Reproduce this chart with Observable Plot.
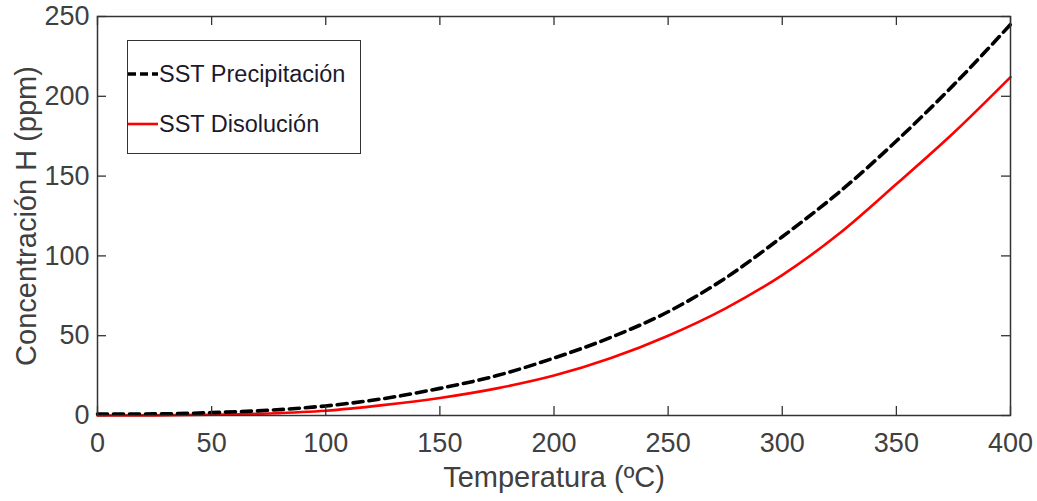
<!DOCTYPE html>
<html>
<head>
<meta charset="utf-8">
<script src="https://cdn.jsdelivr.net/npm/d3@7"></script>
<script src="https://cdn.jsdelivr.net/npm/@observablehq/plot@0.6"></script>
<style>
  html, body { margin: 0; padding: 0; background: #fff; }
  #wrap { position: relative; width: 1037px; height: 501px; font-family: "Liberation Sans", Arial, sans-serif; }
  #legend { position: absolute; left: 127px; top: 40px; width: 232px; height: 112px; border: 1.5px solid #333; background: #fff; box-sizing: content-box; }
  .row { position: absolute; left: 0; height: 30px; display: flex; align-items: center; font-size: 23.5px; color: #1a1a2e; white-space: nowrap; }
  .row svg { display: block; margin-right: 1px; }
</style>
</head>
<body>
<div id="wrap"></div>
<script>
// ---- data ----
const temps = [0, 25, 50, 75, 100, 125, 150, 175, 200, 225, 250, 275, 300, 325, 350, 375, 400];
const precipitacion = [0.9, 1.0, 1.8, 3.3, 6, 10.5, 17, 25, 36, 49, 65, 86, 112, 140, 172, 207, 245];
const disolucion = [0, 0.1, 0.5, 1.3, 3, 6.5, 11, 17, 25, 36, 50, 67, 88, 114, 145, 177, 212];
const seriesNames = ["SST Precipitación", "SST Disolución"];
const xTicks = [0, 50, 100, 150, 200, 250, 300, 350, 400];
const yTicks = [0, 50, 100, 150, 200, 250];
const xLabel = "Temperatura (ºC)";
const yLabel = "Concentración H (ppm)";

const W = 1037, H = 501;
const mL = 97, mR = 27, mT = 16, mB = 86;
const fw = W - mL - mR, fh = H - mT - mB;
const tickLen = 9;
const axisColor = "#333";

const rowsP = temps.map((t, i) => ({t, v: precipitacion[i]}));
const rowsD = temps.map((t, i) => ({t, v: disolucion[i]}));

const chart = Plot.plot({
  width: W, height: H,
  marginLeft: mL, marginRight: mR, marginTop: mT, marginBottom: mB,
  style: {fontFamily: "'Liberation Sans', Arial, sans-serif", fontSize: "27px", color: "#404040", background: "#fff"},
  x: {domain: [0, 400]},
  y: {domain: [0, 250]},
  marks: [
    Plot.line(rowsD, {x: "t", y: "v", stroke: "#ff0000", strokeWidth: 2.6, curve: "monotone-x"}),
    Plot.line(rowsP, {x: "t", y: "v", stroke: "#000", strokeWidth: 3.6, strokeDasharray: "10,6", curve: "monotone-x"}),
    Plot.frame({stroke: axisColor, strokeWidth: 1.5}),
    Plot.tickX(xTicks, {x: d => d, insetTop: fh - tickLen, stroke: axisColor, strokeWidth: 1.3}),
    Plot.tickX(xTicks, {x: d => d, insetBottom: fh - tickLen, stroke: axisColor, strokeWidth: 1.3}),
    Plot.tickY(yTicks, {y: d => d, insetRight: fw - tickLen, stroke: axisColor, strokeWidth: 1.3}),
    Plot.tickY(yTicks, {y: d => d, insetLeft: fw - tickLen, stroke: axisColor, strokeWidth: 1.3}),
    Plot.axisX({ticks: xTicks, tickSize: 0, tickPadding: 17, fontSize: 27, fill: "#404040", label: null}),
    Plot.axisY({ticks: yTicks, tickSize: 0, tickPadding: 8, fontSize: 27, fill: "#404040", label: null}),
    Plot.text([xLabel], {text: d => d, frameAnchor: "bottom", dy: 71, lineAnchor: "bottom", textAnchor: "middle", fontSize: 29, fill: "#404040"}),
    Plot.text([yLabel], {text: d => d, frameAnchor: "left", dx: -62, rotate: -90, lineAnchor: "bottom", textAnchor: "middle", fontSize: 29, fill: "#404040"})
  ]
});

const wrap = document.getElementById("wrap");
wrap.appendChild(chart);

// legend (HTML overlay)
const legend = document.createElement("div");
legend.id = "legend";
const styles = [
  {stroke: "#000", width: 3.6, dash: "8,4"},
  {stroke: "#ff0000", width: 2.6, dash: null}
];
const rowTops = [18, 68];
seriesNames.forEach((name, i) => {
  const row = document.createElement("div");
  row.className = "row";
  row.style.top = rowTops[i] + "px";
  const s = styles[i];
  row.innerHTML = `<svg width="30" height="10"><line x1="0" x2="30" y1="5" y2="5" stroke="${s.stroke}" stroke-width="${s.width}" ${s.dash ? `stroke-dasharray="${s.dash}"` : ""}/></svg><span>${name}</span>`;
  legend.appendChild(row);
});
wrap.appendChild(legend);
</script>
</body>
</html>
